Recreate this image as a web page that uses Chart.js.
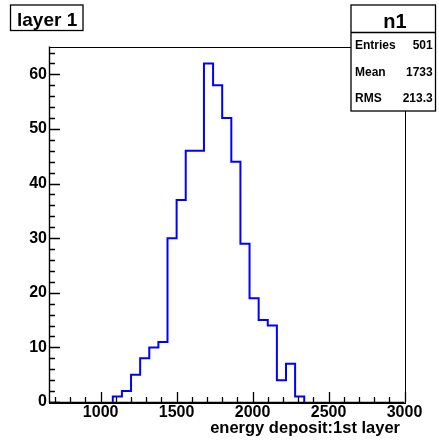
<!DOCTYPE html>
<html>
<head>
<meta charset="utf-8">
<script src="https://cdn.jsdelivr.net/npm/chart.js@4/dist/chart.umd.min.js"></script>
<style>
  html, body { margin: 0; padding: 0; background: #fff; }
  canvas { display: block; }
</style>
</head>
<body>
<canvas id="c" width="439" height="441"></canvas>
<script>
// Histogram bins (edges) and entries per bin
const binEdges = [1080, 1140, 1200, 1260, 1320, 1380, 1440, 1500, 1560, 1620, 1680,
                  1740, 1800, 1860, 1920, 1980, 2040, 2100, 2160, 2220, 2280, 2340];
const counts   = [1, 2, 5, 8, 10, 11, 30, 37, 46, 46, 62,
                  58, 52, 44, 29, 19, 15, 14, 4, 7, 1];

// Axis ticks and ranges
const xTicks = [1000, 1500, 2000, 2500, 3000];
const yTicks = [0, 10, 20, 30, 40, 50, 60];
const xRange = [660, 3000];
const yRange = [0, 65.1];
const xMinorStep = 100;
const yMinorStep = 2;

// Texts
const histTitle = 'layer 1';
const xTitle = 'energy deposit:1st layer';
const statsName = 'n1';
const statsLabels = ['Entries', 'Mean', 'RMS'];
const statsValues = ['501', '1733', '213.3'];

const FONT = '"Liberation Sans", Arial, Helvetica, sans-serif';

// Outline of the histogram as a step line: up at each left edge, across the bin
const outline = [{ x: binEdges[0], y: 0 }];
counts.forEach((c, i) => outline.push({ x: binEdges[i + 1], y: c }));
outline.push({ x: binEdges[binEdges.length - 1], y: 0 });

// Frame and inward major/minor tick marks
const frameTicks = {
  id: 'frameTicks',
  beforeDatasetsDraw(chart) {
    const { ctx, chartArea: a, scales: { x, y } } = chart;
    ctx.save();
    ctx.strokeStyle = '#000';
    ctx.lineWidth = 1;
    ctx.strokeRect(Math.round(a.left) + 0.5, Math.round(a.top) + 0.5,
                   Math.round(a.right - a.left), Math.round(a.bottom - a.top));
    ctx.lineWidth = 1.3;
    ctx.beginPath();
    for (let v = yRange[0]; v <= yRange[1]; v += yMinorStep) {
      const py = Math.round(y.getPixelForValue(v)) + 0.5;
      const len = yTicks.includes(v) ? 11 : 6;
      ctx.moveTo(a.left, py);
      ctx.lineTo(a.left + len, py);
    }
    for (let v = Math.ceil(xRange[0] / xMinorStep) * xMinorStep; v <= xRange[1]; v += xMinorStep) {
      const px = Math.round(x.getPixelForValue(v)) + 0.5;
      const len = xTicks.includes(v) ? 10 : 5;
      ctx.moveTo(px, a.bottom);
      ctx.lineTo(px, a.bottom - len);
    }
    ctx.stroke();
    // axis lines
    ctx.lineWidth = 1.4;
    ctx.beginPath();
    ctx.moveTo(a.left + 0.5, a.top);
    ctx.lineTo(a.left + 0.5, a.bottom + 0.5);
    ctx.lineTo(a.right, a.bottom + 0.5);
    ctx.stroke();
    ctx.restore();
  }
};

// Title box, statistics box and axis title
const boxes = {
  id: 'boxes',
  afterDraw(chart) {
    const { ctx } = chart;
    ctx.save();
    ctx.strokeStyle = '#000';
    ctx.lineWidth = 1.3;

    // title box
    ctx.fillStyle = '#fff';
    ctx.fillRect(10.5, 5, 72.5, 25.5);
    ctx.strokeRect(10.5, 5, 72.5, 25.5);
    ctx.fillStyle = '#000';
    ctx.font = 'bold 19px ' + FONT;
    ctx.textAlign = 'left';
    ctx.textBaseline = 'alphabetic';
    ctx.fillText(histTitle, 17, 26);

    // statistics box
    const bx = 351, by = 5, bw = 84.5, bh = 106;
    ctx.fillStyle = '#fff';
    ctx.fillRect(bx, by, bw, bh);
    ctx.strokeRect(bx, by, bw, bh);
    ctx.beginPath();
    ctx.moveTo(bx, 32.5);
    ctx.lineTo(bx + bw, 32.5);
    ctx.stroke();
    ctx.fillStyle = '#000';
    ctx.font = 'bold 20px ' + FONT;
    ctx.textAlign = 'center';
    ctx.fillText(statsName, 395, 28);
    ctx.font = 'bold 12px ' + FONT;
    const rows = [49.3, 76, 102.3];
    statsLabels.forEach((lab, i) => {
      ctx.textAlign = 'left';
      ctx.fillText(lab, 355, rows[i]);
      ctx.textAlign = 'right';
      ctx.fillText(statsValues[i], 432.7, rows[i]);
    });

    // x axis title
    ctx.font = 'bold 16.5px ' + FONT;
    ctx.textAlign = 'right';
    ctx.fillText(xTitle, 400, 433);
    ctx.restore();
  }
};

new Chart(document.getElementById('c'), {
  type: 'line',
  data: {
    datasets: [{
      data: outline,
      stepped: 'after',
      borderColor: '#0000ff',
      borderWidth: 2,
      pointRadius: 0,
      fill: false
    }]
  },
  options: {
    responsive: false,
    animation: false,
    events: [],
    layout: { padding: { left: 0, top: 46.5, right: 34.5, bottom: 0 } },
    plugins: { legend: { display: false }, title: { display: false }, tooltip: { enabled: false } },
    scales: {
      x: {
        type: 'linear',
        min: xRange[0],
        max: xRange[1],
        grid: { display: false, drawTicks: false },
        border: { display: false },
        ticks: {
          color: '#000',
          padding: 1,
          maxRotation: 0,
          autoSkip: false,
          font: { family: FONT, size: 16, weight: 'bold' },
          callback: v => String(v)
        },
        afterBuildTicks: s => { s.ticks = xTicks.map(v => ({ value: v })); },
        afterFit: s => { s.height = 39; }
      },
      y: {
        type: 'linear',
        min: yRange[0],
        max: yRange[1],
        grid: { display: false, drawTicks: false },
        border: { display: false },
        ticks: {
          color: '#000',
          padding: 2,
          autoSkip: false,
          font: { family: FONT, size: 16, weight: 'bold' },
          callback: v => String(v)
        },
        afterBuildTicks: s => { s.ticks = yTicks.map(v => ({ value: v })); },
        afterFit: s => { s.width = 49; }
      }
    }
  },
  plugins: [frameTicks, boxes]
});
</script>
</body>
</html>
